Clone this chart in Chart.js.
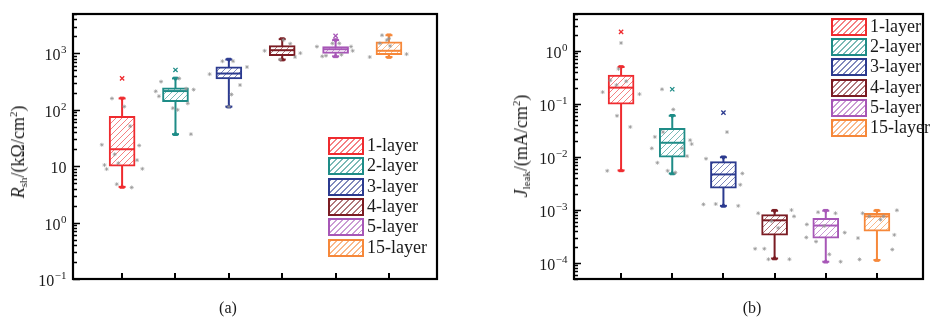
<!DOCTYPE html>
<html><head><meta charset="utf-8">
<script src="https://cdn.jsdelivr.net/npm/chart.js@4.4.0/dist/chart.umd.min.js"></script>
<style>
html,body{margin:0;padding:0;background:#fff;}
#wrap{position:relative;width:937px;height:322px;overflow:hidden;font-family:"Liberation Serif","Times New Roman",serif;color:#1a1a1a;background:#fff;}
.cv{position:absolute;top:0;}
.ytitle{position:absolute;white-space:nowrap;font-size:18px;transform:translate(-50%,-50%) rotate(-90deg);line-height:20px;}
.ytitle sub{font-size:11px;vertical-align:-3px;}
.ytitle sup{font-size:11px;vertical-align:7px;}
.lg{position:absolute;font-size:18px;}
.lg .row{position:absolute;left:0;height:18px;white-space:nowrap;}
.lg .sw{position:absolute;left:0;top:0;width:36px;height:18px;box-sizing:border-box;border:2px solid;}
.lg .tx{position:absolute;left:39px;top:-3px;line-height:22px;}
.capt{position:absolute;font-size:16px;transform:translate(-50%,-50%);}
</style></head>
<body>
<div id="wrap">
  <canvas id="c1" class="cv" style="left:0" width="468" height="322"></canvas>
  <canvas id="c2" class="cv" style="left:468px" width="469" height="322"></canvas>
  <div class="ytitle" style="left:18px;top:152px"><i>R</i><sub>sh</sub>/(kΩ/cm<sup>2</sup>)</div>
  <div class="ytitle" style="left:521px;top:146px"><i>J</i><sub>leak</sub>/(mA/cm<sup>2</sup>)</div>
  <div id="lg1" class="lg" style="left:328px;top:137px"></div>
  <div id="lg2" class="lg" style="left:831px;top:17.7px"></div>
  <div class="capt" style="left:228px;top:308px">(a)</div>
  <div class="capt" style="left:752px;top:308px">(b)</div>
</div>
<script>
// ---------- data ----------
const categories = ['1-layer','2-layer','3-layer','4-layer','5-layer','15-layer'];
const seriesColors = ['#ef2b2f','#1e8c87','#2b3a8f','#7b1c23','#a757b7','#f6883a'];

// Panel (a): R_sh (kOhm/cm2)
const rshMin    = [4.3, 37, 114, 778, 888, 863];
const rshQ1     = [10, 139, 352, 912, 1000, 950];
const rshMedian = [20, 215, 440, 1140, 1186, 1113];
const rshQ3     = [77, 246, 580, 1374, 1320, 1610];
const rshMax    = [159, 360, 778, 1791, 1722, 2100];
const rshOutlierGroup = [1, 2, 5];
const rshOutlierValue = [360, 509, 2043];
const rshPointGroup  = [1,1,1,1,1,1,1,1,1,1,1,1,1, 2,2,2,2,2,2,2,2,2,2, 3,3,3,3,3,3,3, 4,4,4,4,4,4, 5,5,5,5,5,5,5,5, 6,6,6,6,6,6,6];
const rshPointOffset = [-0.19,0.04,-0.38,-0.33,-0.29,-0.14,-0.07,0.15,0.32,0.28,0.38,-0.10,0.18,
  -0.37,-0.27,-0.31,-0.05,0.04,0.07,0.20,0.34,0.29,0.23,
  -0.36,0.08,0.34,0.21,0.05,-0.12,0.0,
  -0.33,0.02,0.15,0.24,0.34,-0.04,
  -0.35,-0.25,0.07,0.11,0.29,0.32,-0.06,-0.18,
  -0.36,0.33,-0.04,-0.13,0.02,-0.17,0.0];
const rshPointValue = [159,114,24,10.5,8.9,16.3,11.3,51.5,23.3,12.8,9.0,4.8,4.2,
  213,316,174,107,100,360,237,228,37,130,
  429,728,574,275,187,728,114,
  1113,1722,1487,863,1012,778,
  1320,888,1505,950,1320,1113,1505,912,
  863,972,1722,2100,1360,1505,1834];
const rshTickValues = [0.1, 1, 10, 100, 1000];
const rshTickLabels = ['10^−1','10^0','10','10^2','10^3'];

// Panel (b): J_leak (mA/cm2)
const jMin    = [0.0056, 0.0049, 0.0012, 0.000122, 0.000106, 0.000114];
const jQ1     = [0.099, 0.010, 0.0026, 0.000336, 0.000296, 0.0004];
const jMedian = [0.204, 0.0186, 0.0047, 0.00064, 0.00051, 0.00076];
const jQ3     = [0.352, 0.035, 0.0082, 0.00082, 0.0007, 0.00087];
const jMax    = [0.50, 0.060, 0.0099, 0.00097, 0.00097, 0.00097];
const jOutlierGroup = [1, 2, 3];
const jOutlierValue = [2.3, 0.19, 0.069];
const jPointGroup  = [1,1,1,1,1,1,1,1,1,1, 2,2,2,2,2,2,2,2,2,2,2,2, 3,3,3,3,3,3,3, 4,4,4,4,4,4,4,4,4, 5,5,5,5,5,5,5,5,5, 6,6,6,6,6,6,6,6,6];
const jPointOffset = [-0.36,-0.27,0.0,-0.05,-0.09,-0.08,0.18,0.36,0.10,-0.21,
  -0.20,0.02,-0.34,-0.40,-0.29,-0.09,0.06,0.19,0.29,0.35,0.38,-0.18,
  0.07,-0.34,-0.39,-0.15,0.37,0.33,0.29,
  -0.32,-0.38,-0.20,-0.12,0.29,0.38,0.33,0.07,-0.06,
  -0.37,-0.38,-0.19,-0.15,0.07,0.29,0.37,0.19,-0.03,
  -0.34,-0.37,-0.28,0.13,0.34,0.30,0.39,-0.15,0.07];
const jPointValue = [0.168,0.0055,1.42,0.46,0.228,0.060,0.037,0.154,0.27,0.28,
  0.19,0.079,0.024,0.0146,0.0078,0.0055,0.0051,0.0146,0.0104,0.0208,0.0176,0.0296,
  0.0296,0.0093,0.00128,0.0013,0.0049,0.003,0.0012,
  0.00087,0.000186,0.000186,0.000118,0.000118,0.00076,0.001,0.00046,0.000615,
  0.000535,0.000304,0.000254,0.00091,0.000146,0.000106,0.000375,0.00087,0.0005,
  0.000117,0.000296,0.00087,0.00076,0.00034,0.00018,0.00099,0.00076,0.00066];
const jTickValues = [0.0001, 0.001, 0.01, 0.1, 1];
const jTickLabels = ['10^−4','10^−3','10^−2','10^−1','10^0'];

// ---------- helpers ----------
function hatch(color){
  const c=document.createElement('canvas'); c.width=6; c.height=6;
  const g=c.getContext('2d'); g.fillStyle='#fff'; g.fillRect(0,0,6,6);
  g.strokeStyle=color; g.globalAlpha=0.6; g.lineWidth=1;
  g.beginPath(); g.moveTo(0,6); g.lineTo(6,0); g.moveTo(-1,1); g.lineTo(1,-1); g.moveTo(5,7); g.lineTo(7,5); g.stroke();
  return g.createPattern(c,'repeat');
}
function buildDatasets(p){
  const xs = categories.map((_,i)=>i+1);
  const ds = [];
  xs.forEach((x,i)=>ds.push({type:'scatter',showLine:true,data:[{x,y:p.min[i]},{x,y:p.max[i]}],
    borderColor:seriesColors[i],borderWidth:2,pointRadius:0,order:6}));
  ds.push({type:'bar',data:xs.map((x,i)=>({x,y:[p.q1[i],p.q3[i]]})),backgroundColor:seriesColors.map(hatch),
    borderColor:seriesColors,borderWidth:2,borderSkipped:false,barThickness:26,order:5});
  ds.push({type:'scatter',data:xs.map((x,i)=>({x,y:p.median[i]})),pointStyle:'line',pointRadius:12,
    pointBorderColor:seriesColors,pointBorderWidth:2,order:4});
  const capData=[...xs.map((x,i)=>({x,y:p.max[i]})),...xs.map((x,i)=>({x,y:p.min[i]}))];
  const capCol=[...seriesColors,...seriesColors];
  ds.push({type:'scatter',data:capData,pointStyle:'line',pointRadius:3.5,pointBorderColor:capCol,pointBorderWidth:2,order:3});
  ds.push({type:'scatter',data:capData,pointStyle:'triangle',pointRadius:2.6,
    pointRotation:[...xs.map(()=>180),...xs.map(()=>0)],pointBackgroundColor:capCol,pointBorderColor:capCol,pointBorderWidth:1,order:3});
  ds.push({type:'scatter',data:p.outG.map((g,k)=>({x:g,y:p.outV[k]})),pointStyle:'crossRot',pointRadius:3,
    pointBorderColor:p.outG.map(g=>seriesColors[g-1]),pointBorderWidth:1.3,order:2});
  ds.push({type:'scatter',data:p.ptG.map((g,k)=>({x:g+p.ptO[k],y:p.ptV[k]})),pointStyle:'star',pointRadius:2,
    pointBorderColor:'rgba(150,150,150,0.7)',pointBackgroundColor:'rgba(150,150,150,0.7)',pointBorderWidth:1,order:1});
  return ds;
}
const axesPlugin = {
  id:'axesPlugin',
  afterDraw(chart, args, opts){
    const ctx=chart.ctx, a=chart.chartArea, ys=chart.scales.y, xs=chart.scales.x;
    ctx.save();
    ctx.strokeStyle='#000';
    ctx.lineWidth=1.4;
    const lo=Math.floor(Math.log10(ys.min)), hi=Math.ceil(Math.log10(ys.max));
    ctx.beginPath();
    for(let d=lo; d<=hi; d++){
      for(let m=1;m<=9;m++){
        const v=m*Math.pow(10,d);
        if(v<ys.min*0.999||v>ys.max*1.001) continue;
        const y=Math.round(ys.getPixelForValue(v))+0.5;
        const len=m===1?7:4;
        ctx.moveTo(a.left, y); ctx.lineTo(a.left+len, y);
      }
    }
    ctx.stroke();
    ctx.lineWidth=2;
    ctx.beginPath();
    categories.forEach((_,i)=>{const x=Math.round(xs.getPixelForValue(i+1)); ctx.moveTo(x,a.bottom); ctx.lineTo(x,a.bottom-6);});
    ctx.stroke();
    ctx.lineWidth=2.2;
    ctx.strokeRect(a.left, a.top, a.right-a.left, a.bottom-a.top);
    ctx.fillStyle='#1a1a1a';
    ctx.textBaseline='alphabetic';
    opts.values.forEach((v,k)=>{
      const parts=opts.labels[k].split('^');
      const y=ys.getPixelForValue(v);
      ctx.font='16px "Liberation Serif"';
      const wb=ctx.measureText(parts[0]).width;
      ctx.font='11px "Liberation Serif"';
      const we=parts[1]?ctx.measureText(parts[1]).width+0.5:0;
      const x0=a.left-6.5-wb-we;
      ctx.font='16px "Liberation Serif"';
      ctx.fillText(parts[0], x0, y+7);
      if(parts[1]){ctx.font='11px "Liberation Serif"'; ctx.fillText(parts[1], x0+wb+0.5, y);}
    });
    ctx.restore();
  }
};
function makeChart(id, p, yMin, yMax, pad){
  return new Chart(document.getElementById(id), {
    type:'bar',
    data:{datasets:buildDatasets(p)},
    options:{
      responsive:false, animation:false, devicePixelRatio:1,
      layout:{padding:pad},
      plugins:{legend:{display:false},tooltip:{enabled:false},axesPlugin:{values:p.tickV,labels:p.tickL}},
      scales:{
        x:{type:'linear',min:0.08,max:6.9,display:false,offset:false},
        y:{type:'logarithmic',min:yMin,max:yMax,display:false}
      }
    },
    plugins:[axesPlugin]
  });
}
makeChart('c1',{min:rshMin,q1:rshQ1,median:rshMedian,q3:rshQ3,max:rshMax,outG:rshOutlierGroup,outV:rshOutlierValue,
  ptG:rshPointGroup,ptO:rshPointOffset,ptV:rshPointValue,tickV:rshTickValues,tickL:rshTickLabels},0.1,5000,{left:73,right:31,top:6,bottom:43});
makeChart('c2',{min:jMin,q1:jQ1,median:jMedian,q3:jQ3,max:jMax,outG:jOutlierGroup,outV:jOutlierValue,
  ptG:jPointGroup,ptO:jPointOffset,ptV:jPointValue,tickV:jTickValues,tickL:jTickLabels},5e-5,5,{left:106,right:2,top:6,bottom:43});

function buildLegend(id){
  const el=document.getElementById(id);
  categories.forEach((c,i)=>{
    const row=document.createElement('div'); row.className='row'; row.style.top=(i*20.3)+'px';
    const sw=document.createElement('div'); sw.className='sw'; sw.style.borderColor=seriesColors[i];
    sw.style.background='repeating-linear-gradient(135deg, '+seriesColors[i]+'99 0 1px, #fff 1px 4.2px)';
    const tx=document.createElement('div'); tx.className='tx'; tx.textContent=c;
    row.appendChild(sw); row.appendChild(tx); el.appendChild(row);
  });
}
buildLegend('lg1'); buildLegend('lg2');
</script>
</body></html>
